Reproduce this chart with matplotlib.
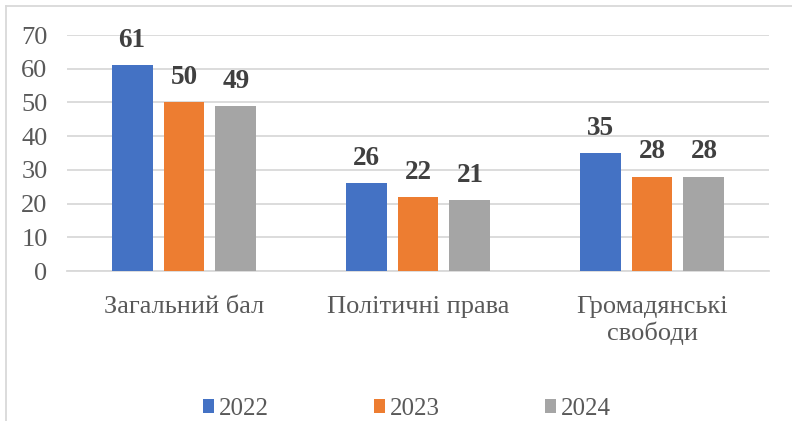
import numpy as np
import matplotlib
matplotlib.use("Agg")
import matplotlib.pyplot as plt
from matplotlib.lines import Line2D
from matplotlib.patches import Patch

# дані
categories = ["Загальний бал", "Політичні права", "Громадянські\nсвободи"]
years = ["2022", "2023", "2024"]
v2022 = [61, 26, 35]
v2023 = [50, 22, 28]
v2024 = [49, 21, 28]
yticks = [0, 10, 20, 30, 40, 50, 60, 70]

colors = ["#4472C4", "#ED7D31", "#A5A5A5"]
plt.rcParams['font.family'] = ['Liberation Serif', 'DejaVu Serif']

W, H = 792, 421
fig = plt.figure(figsize=(W / 100, H / 100), dpi=100)
ax = fig.add_axes([67 / W, 1 - 271 / H, (769 - 67) / W, (271 - 35) / H])

x = np.arange(len(categories))
bw = 0.175
step = 0.222
series = [v2022, v2023, v2024]
for i, vals in enumerate(series):
    pos = x + (i - 1) * step
    ax.bar(pos, vals, width=bw, color=colors[i], zorder=3)
    for p, v in zip(pos, vals):
        ax.text(p, v + 3.6, str(v), ha='center', va='bottom',
                fontsize=19.5, fontweight='bold', color='#404040')

ax.set_xlim(-0.5, 2.5)
ax.set_ylim(0, 70)
ax.set_yticks(yticks)
ax.set_yticklabels([str(t) for t in yticks], fontsize=19, color='#595959')
ax.set_xticks(x)
ax.set_xticklabels(categories, fontsize=19, color='#595959', linespacing=1.17)
ax.tick_params(axis='both', length=0)
ax.tick_params(axis='y', pad=14)
ax.tick_params(axis='x', pad=18)
ax.grid(axis='y', color='#D9D9D9', linewidth=1.3, zorder=0)
for s in ['top', 'right', 'left']:
    ax.spines[s].set_visible(False)
ax.spines['bottom'].set_color('#D9D9D9')
ax.spines['bottom'].set_linewidth(1.3)

handles = [Patch(facecolor=c) for c in colors]
fig.legend(handles, years, loc='center', bbox_to_anchor=(407 / W, 1 - 409 / H),
           ncol=3, frameon=False, fontsize=18, handlelength=0.45, handleheight=0.45,
           handletextpad=0.2, columnspacing=4.2, labelcolor='#595959')

# рамка
fig.add_artist(Line2D([6 / W, 1], [1 - 6 / H, 1 - 6 / H], color='#D9D9D9', lw=1.3))
fig.add_artist(Line2D([6 / W, 6 / W], [0, 1 - 6 / H], color='#D9D9D9', lw=1.3))

fig.savefig("out.png", dpi=100)
